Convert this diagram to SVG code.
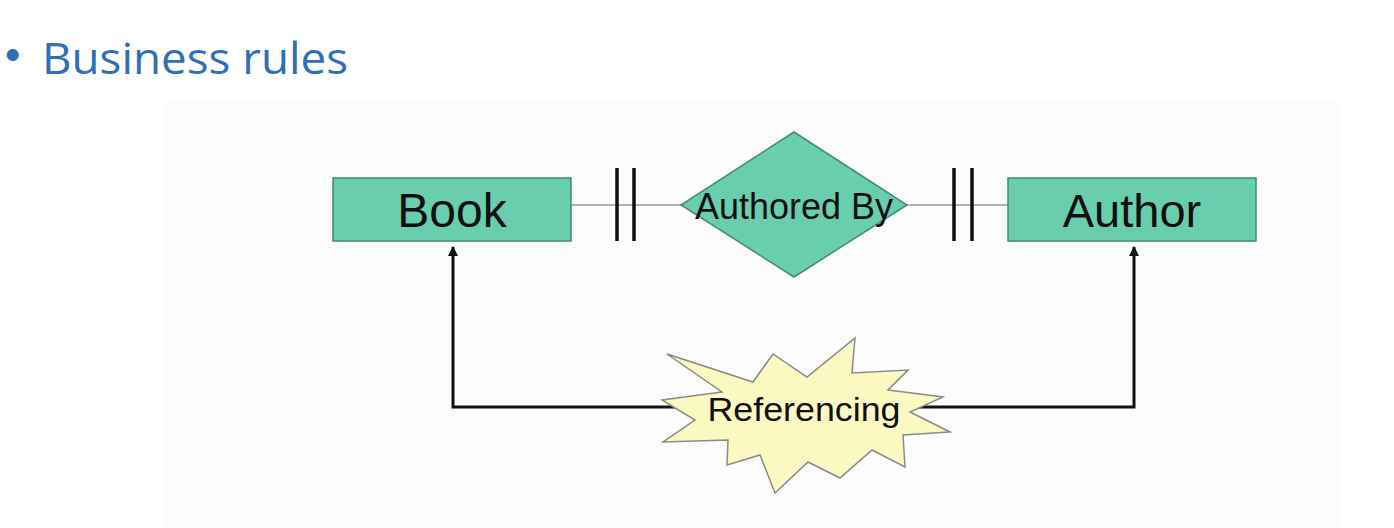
<svg xmlns="http://www.w3.org/2000/svg" width="1394" height="528" viewBox="0 0 1394 528">
<style>
.entity{fill:#68ceae;stroke:#3f8c7a;stroke-width:1.5}
.rel{fill:#68ceae;stroke:#3f8c7a;stroke-width:1.5}
.lbl{font-family:"Liberation Sans",Arial,sans-serif;fill:#111;text-anchor:middle}
.bar{stroke:#111;stroke-width:3.5}
.link{stroke:#9a9aa6;stroke-width:1.5;fill:none}
.ref{stroke:#111;stroke-width:3;fill:none}
.burst{fill:#fbf8c2;stroke:#8a8a8a;stroke-width:1.5}
.title{font-family:"Open Sans",Lato,sans-serif;fill:#2e6fb7}
</style>
<defs>
<marker id="ah" viewBox="0 0 10 10" refX="9" refY="5" markerWidth="3.5" markerHeight="4" orient="auto">
<path d="M0,0 L10,5 L0,10 z" fill="#111"/>
</marker>
</defs>
<rect x="0" y="0" width="1394" height="528" fill="#ffffff"/>
<rect x="165" y="100" width="1175" height="428" fill="#fcfcfc"/>
<g id="title">
<text x="5" y="70" font-size="44" fill="#2e6fb7" font-family="'Liberation Sans',Arial,sans-serif">•</text>
<text class="title" x="42" y="74" font-size="44" textLength="306" lengthAdjust="spacingAndGlyphs">Business rules</text>
</g>
<g id="connectors">
<line class="link" x1="571" y1="205" x2="682" y2="205"/>
<line class="link" x1="906" y1="205" x2="1008" y2="205"/>
<line class="bar" x1="617" y1="168" x2="617" y2="241"/>
<line class="bar" x1="634" y1="168" x2="634" y2="241"/>
<line class="bar" x1="954" y1="168" x2="954" y2="241"/>
<line class="bar" x1="972" y1="168" x2="972" y2="241"/>
<polyline class="ref" points="700,407 453,407 453,247" marker-end="url(#ah)"/>
<polyline class="ref" points="910,407 1134,407 1134,247" marker-end="url(#ah)"/>
</g>
<g id="book">
<rect class="entity" x="333" y="178" width="238" height="63"/>
<text class="lbl" x="452" y="227" font-size="48">Book</text>
</g>
<g id="author">
<rect class="entity" x="1008" y="178" width="248" height="63"/>
<text class="lbl" x="1132" y="227" font-size="47">Author</text>
</g>
<g id="authored-by">
<polygon class="rel" points="794,132 907,205 794,277 681,205"/>
<text class="lbl" x="794" y="219" font-size="36" textLength="198" lengthAdjust="spacingAndGlyphs">Authored By</text>
</g>
<g id="referencing">
<polygon class="burst" points="667,354 753,382 773,354 807,377 855,338 852,373 908,370 888,390 943,397 910,412 950,432 903,435 905,467 872,450 840,478 808,462 775,493 760,455 727,465 728,440 663,442 695,420 662,400 722,392"/>
<text class="lbl" x="804" y="421" font-size="33" textLength="193" lengthAdjust="spacingAndGlyphs">Referencing</text>
</g>
</svg>
